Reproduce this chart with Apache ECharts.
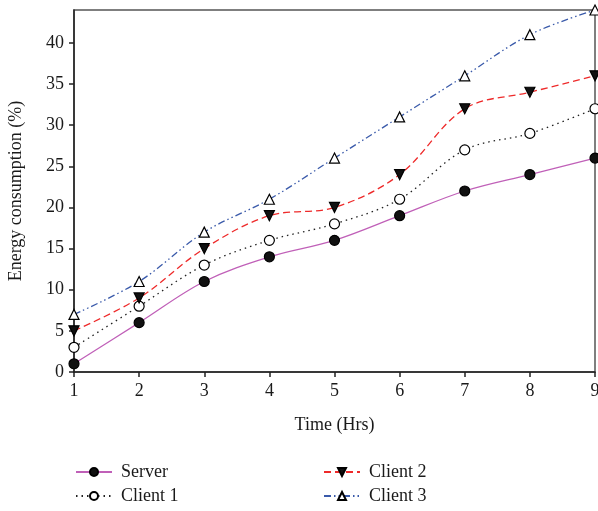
<!DOCTYPE html>
<html><head><meta charset="utf-8">
<script src="https://cdn.jsdelivr.net/npm/echarts@6/dist/echarts.min.js"></script>
<style>html,body{margin:0;padding:0;background:#fff}#c{width:598px;height:511px}</style>
</head><body><div id="c"></div>
<script>
var hours = ['1','2','3','4','5','6','7','8','9'];
var server  = [1, 6, 11, 14, 16, 19, 22, 24, 26];
var client1 = [3, 8, 13, 16, 18, 21, 27, 29, 32];
var client2 = [5, 9, 15, 19, 20, 24, 32, 34, 36];
var client3 = [7, 11, 17, 21, 26, 31, 36, 41, 44];
var yTicks = [0, 5, 10, 15, 20, 25, 30, 35, 40];

var FONT = '"Liberation Serif", "DejaVu Serif", serif';
var chart = echarts.init(document.getElementById('c'));
function mk(name, data, color, ltype, symbol, fill, rot) {
  return {
    name: name, type: 'line', data: data, smooth: 0.35,
    symbol: symbol, symbolSize: 10, symbolRotate: rot || 0,
    itemStyle: {color: fill, borderColor: '#000', borderWidth: 1.2},
    lineStyle: {color: color, width: 1.3, type: ltype},
    emphasis: {disabled: true}, z: 3
  };
}
chart.setOption({
  animation: false,
  textStyle: {fontFamily: FONT},
  grid: {left: 74, right: 3, top: 10, bottom: 139, show: true, borderColor: '#555', borderWidth: 1.5,
         containLabel: false, outerBoundsMode: 'none'},
  xAxis: {
    type: 'category', data: hours, boundaryGap: false,
    name: 'Time (Hrs)', nameLocation: 'middle', nameGap: 44,
    nameTextStyle: {fontFamily: FONT, fontSize: 18, color: '#1a1a1a'},
    axisLine: {lineStyle: {color: '#222', width: 1.5}},
    axisTick: {show: true, length: 5, lineStyle: {color: '#222', width: 1.5}},
    axisLabel: {fontFamily: FONT, fontSize: 18, color: '#1a1a1a', margin: 10},
    splitLine: {show: false}
  },
  yAxis: {
    type: 'value', min: 0, max: 44,
    name: 'Energy consumption (%)', nameLocation: 'middle', nameGap: 49,
    nameTextStyle: {fontFamily: FONT, fontSize: 18, color: '#1a1a1a'},
    axisLine: {show: true, lineStyle: {color: '#222', width: 1.5}},
    axisTick: {show: true, length: 5, customValues: yTicks, lineStyle: {color: '#222', width: 1.5}},
    axisLabel: {fontFamily: FONT, fontSize: 18, color: '#1a1a1a', margin: 10, customValues: yTicks},
    splitLine: {show: false}
  },
  legend: [
    {data: ['Server', 'Client 1'], orient: 'vertical', left: 70, top: 458, itemGap: 6, itemWidth: 36, itemHeight: 10,
     textStyle: {fontFamily: FONT, fontSize: 18, color: '#1a1a1a', padding: [0, 0, 0, 4]}},
    {data: ['Client 2', 'Client 3'], orient: 'vertical', left: 318, top: 458, itemGap: 6, itemWidth: 36, itemHeight: 10,
     textStyle: {fontFamily: FONT, fontSize: 18, color: '#1a1a1a', padding: [0, 0, 0, 4]}}
  ],
  series: [
    mk('Server', server, '#c060b8', 'solid', 'circle', '#111'),
    mk('Client 1', client1, '#222', [1.5, 4], 'circle', '#fff'),
    mk('Client 2', client2, '#ee2a2a', [7, 4], 'triangle', '#111', 180),
    mk('Client 3', client3, '#3a5aaa', [7, 3, 1.5, 3, 1.5, 3], 'triangle', '#fff')
  ]
});
</script></body></html>
